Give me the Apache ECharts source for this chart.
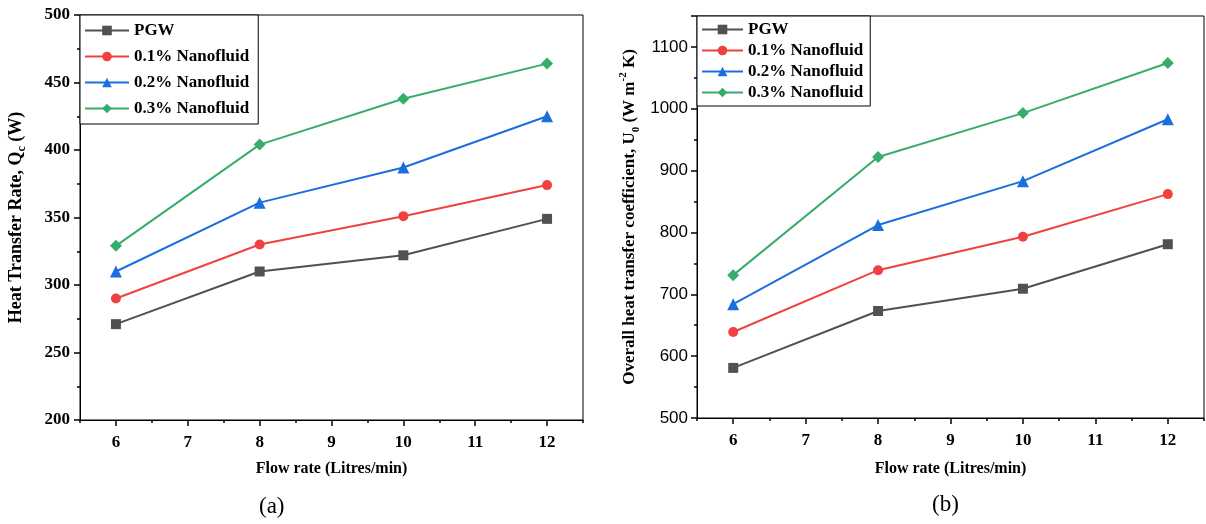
<!DOCTYPE html>
<html>
<head>
<meta charset="utf-8">
<script src="https://cdn.jsdelivr.net/npm/echarts@6/dist/echarts.min.js"></script>
<style>html,body{margin:0;padding:0;background:#fff}#c{width:1206px;height:524px}</style>
</head>
<body>
<div id="c"></div>
<script>
const flowRates = [6, 8, 10, 12];
const seriesNames = ['PGW', '0.1% Nanofluid', '0.2% Nanofluid', '0.3% Nanofluid'];
// (a) Heat transfer rate Qc (W)
const qPGW = [271, 310, 322, 349];
const q01 = [290, 330, 351, 374];
const q02 = [310, 361, 387, 425];
const q03 = [329, 404, 438, 464];
// (b) Overall heat transfer coefficient U0
const uPGW = [581, 673, 709, 781];
const u01 = [639, 739, 793, 862];
const u02 = [684, 812, 883, 983];
const u03 = [731, 922, 993, 1074];
const xTickValues = [6, 7, 8, 9, 10, 11, 12];

const colors = ['#515151', '#F14040', '#1A6FDF', '#37AD6B'];
const symbols = ['rect', 'circle', 'triangle', 'diamond'];
const symSizes = [10, 10, 12, 12];
const serif = '"Liberation Serif", "Times New Roman", serif';
const sans = '"Liberation Sans", Arial, sans-serif';

function pairs(vals) { return flowRates.map((x, i) => [x, vals[i]]); }

function mkX(gi, gap) {
  return [{
    type: 'value', gridIndex: gi, min: 5.5, max: 12.5,
    name: 'Flow rate (Litres/min)', nameLocation: 'middle', nameGap: gap,
    nameTextStyle: { fontFamily: serif, fontWeight: 'bold', fontSize: 16, color: '#000' },
    axisLine: { show: true, onZero: false, lineStyle: { color: '#000', width: 1 } },
    axisTick: { show: true, length: 6, customValues: xTickValues, lineStyle: { color: '#000', width: 1.5 } },
    axisLabel: { customValues: xTickValues, margin: 14, fontFamily: serif, fontWeight: 'bold', fontSize: 17, color: '#000' },
    splitLine: { show: false }
  }, {
    type: 'value', gridIndex: gi, min: 5.5, max: 12.5, interval: 0.5,
    position: 'bottom',
    axisLine: { show: false }, axisLabel: { show: false }, splitLine: { show: false },
    axisTick: { show: true, length: 3, lineStyle: { color: '#000', width: 1.5 } }
  }];
}

const option = {
  animation: false,
  backgroundColor: '#fff',
  color: colors,
  grid: [
    { left: 80, top: 15, width: 503, height: 405, show: true, borderColor: '#000', borderWidth: 1 },
    { left: 697, top: 16, width: 507, height: 402, show: true, borderColor: '#000', borderWidth: 1 }
  ],
  xAxis: [...mkX(0, 41), ...mkX(1, 43)],
  yAxis: [{
    type: 'value', gridIndex: 0, min: 200, max: 500, interval: 50,
    name: '{n|Heat Transfer Rate, Q}{sub|c}{n| (W)}', nameLocation: 'middle', nameGap: 52,
    nameTextStyle: { fontFamily: serif, fontWeight: 'bold', fontSize: 18, color: '#000',
      rich: { n: { fontFamily: serif, fontWeight: 'bold', fontSize: 18, color: '#000', lineHeight: 24 },
              sub: { fontFamily: serif, fontWeight: 'bold', fontSize: 12, color: '#000', lineHeight: 24, verticalAlign: 'bottom', padding: [7, 0, 0, 0] } } },
    axisLine: { show: true, lineStyle: { color: '#000', width: 1 } },
    axisTick: { show: true, length: 6, lineStyle: { color: '#000', width: 1.5 } },
    minorTick: { show: true, splitNumber: 2, length: 3, lineStyle: { color: '#000', width: 1.5 } },
    axisLabel: { margin: 10, fontFamily: serif, fontWeight: 'bold', fontSize: 17, color: '#000' },
    splitLine: { show: false }
  }, {
    type: 'value', gridIndex: 1, min: 500, max: 1150, interval: 100,
    name: '{n|Overall heat transfer coefficient, U}{sub|0}{n| (W m}{sup|-2}{n| K)}', nameLocation: 'middle', nameGap: 55,
    nameTextStyle: { fontFamily: serif, fontWeight: 'bold', fontSize: 17, color: '#000',
      rich: { n: { fontFamily: serif, fontWeight: 'bold', fontSize: 17, color: '#000', lineHeight: 24 },
              sub: { fontFamily: serif, fontWeight: 'bold', fontSize: 11, color: '#000', lineHeight: 24, verticalAlign: 'bottom', padding: [7, 0, 0, 0] },
              sup: { fontFamily: serif, fontWeight: 'bold', fontSize: 11, color: '#000', lineHeight: 24, verticalAlign: 'top', padding: [0, 0, 7, 0] } } },
    axisLine: { show: true, lineStyle: { color: '#000', width: 1 } },
    axisTick: { show: true, length: 6, lineStyle: { color: '#000', width: 1.5 } },
    minorTick: { show: true, splitNumber: 2, length: 3, lineStyle: { color: '#000', width: 1.5 } },
    axisLabel: { margin: 9, fontFamily: sans, fontSize: 17, color: '#000', showMaxLabel: false,
      formatter: v => (v > 1100 ? '' : String(v)) },
    splitLine: { show: false }
  }],
  legend: [{
    left: 80, top: 15, orient: 'vertical', data: seriesNames,
    backgroundColor: '#fff', borderColor: '#000', borderWidth: 1,
    padding: [7, 9, 7, 4], itemWidth: 44, itemHeight: 12, itemGap: 9,
    textStyle: { fontFamily: serif, fontWeight: 'bold', fontSize: 17, color: '#000', lineHeight: 17 }
  }, {
    left: 697, top: 16, orient: 'vertical', data: seriesNames,
    backgroundColor: '#fff', borderColor: '#000', borderWidth: 1,
    padding: [5, 7, 5, 4], itemWidth: 41, itemHeight: 12, itemGap: 4,
    textStyle: { fontFamily: serif, fontWeight: 'bold', fontSize: 17, color: '#000', lineHeight: 17 }
  }],
  graphic: [
    { type: 'text', left: 259, top: 495, style: { text: '(a)', font: '23px ' + serif, fill: '#000' } },
    { type: 'text', left: 932, top: 493, style: { text: '(b)', font: '23px ' + serif, fill: '#000' } }
  ],
  series: []
};

const dataA = [qPGW, q01, q02, q03];
const dataB = [uPGW, u01, u02, u03];
[[dataA, 0, 0], [dataB, 2, 1]].forEach(([set, xi, yi]) => {
  set.forEach((vals, i) => {
    option.series.push({
      name: seriesNames[i], type: 'line', xAxisIndex: xi, yAxisIndex: yi,
      data: pairs(vals), symbol: symbols[i], symbolSize: symSizes[i],
      lineStyle: { width: 2, color: colors[i] }, itemStyle: { color: colors[i] },
      z: 3
    });
  });
});

const chart = echarts.init(document.getElementById('c'), null, { renderer: 'canvas' });
chart.setOption(option);
</script>
</body>
</html>
